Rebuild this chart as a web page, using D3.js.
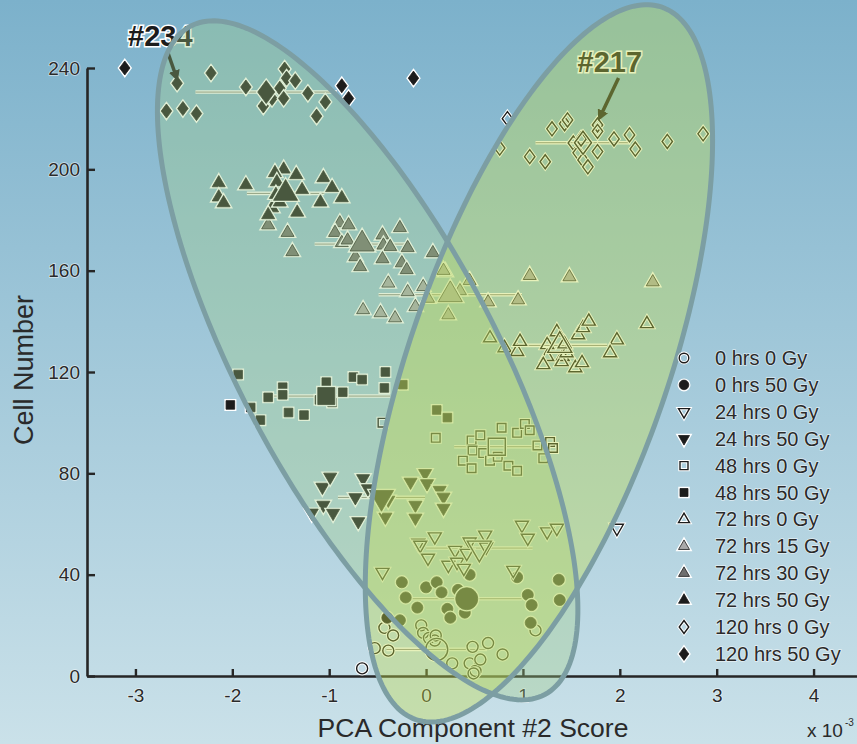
<!DOCTYPE html>
<html>
<head>
<meta charset="utf-8">
<script src="https://cdn.jsdelivr.net/npm/d3@7"></script>
<style>
  body { margin: 0; background: #fff; }
  svg { display: block; }
  text { font-family: "Liberation Sans", Arial, Helvetica, sans-serif; }
</style>
</head>
<body>
<div id="chart"></div>
<script>
// ---- data (x = PCA component #2 score, y = cell number) ----
var legendLabels = ["0 hrs 0 Gy", "0 hrs 50 Gy", "24 hrs 0 Gy", "24 hrs 50 Gy", "48 hrs 0 Gy", "48 hrs 50 Gy",
  "72 hrs 0 Gy", "72 hrs 15 Gy", "72 hrs 30 Gy", "72 hrs 50 Gy", "120 hrs 0 Gy", "120 hrs 50 Gy"];

var xTicks = [-3, -2, -1, 0, 1, 2, 3, 4];
var yTicks = [0, 40, 80, 120, 160, 200, 240];

// group means and spread (horizontal bars)
var groupMean = [0.11, 0.42, 0.55, -0.46, 0.73, -1.03, 1.38, 0.25, -0.66, -1.45, 1.62, -1.65];
var groupSD   = [0.52, 0.57, 0.55, 0.45, 0.44, 0.66, 0.49, 0.74, 0.49, 0.40, 0.49, 0.73];
var groupCell = [10.5, 30.5, 50.5, 70.5, 90.5, 110.5, 130.5, 150.5, 170.5, 190.5, 210.5, 230.5];

var h0gy0 = [[-0.66,3],[-0.53,11],[-0.39,10],[-0.43,19],[-0.34,16],[-0.05,20],[-0.03,17],[0.03,15],
  [0.09,14],[0.27,5],[0.45,5],[0.51,2],[0.48,11.5],[0.64,13],[0.56,6.5],[0.79,8.5],[1.13,18],[0.49,1],[0.10,16]];
var h0gy50 = [[-0.25,37],[-0.21,31],[-0.09,27],[0.0,35],[0.11,37],[0.16,33],[0.22,26.5],[0.25,23],[0.33,34],
  [0.38,31],[0.43,31],[0.40,25],[0.45,40],[0.94,39],[1.05,32],[1.09,28],[1.08,21],[1.37,38],[1.38,30],[-0.40,23],[-0.27,22]];
var h24gy0 = [[0.99,59.6],[1.05,54.5],[1.25,57],[1.35,58.4],[0.09,55],[-0.08,52.5],[0.61,55.7],[0.45,53],[-0.06,51.7],
  [0.02,46.6],[-0.45,41],[0.23,43.8],[0.30,49.7],[0.32,45],[0.42,48.5],[0.90,41.8],[0.39,42.6],[1.97,58.4],[0.62,51]];
var h24gy50 = [[-1.07,74.6],[-0.99,78.6],[-1.06,67.5],[-0.96,64.3],[-1.18,64.4],[-0.65,78],[-0.60,74],[-0.70,61],
  [-0.45,71.5],[-0.39,69.5],[-0.42,62.8],[-0.16,76.6],[-0.11,67.5],[-0.11,62.4],[-0.01,80],[0.01,76],[0.14,73.4],
  [0.18,70.7],[0.18,66.3],[-0.73,70.5]];
var h48gy0 = [[-0.45,100],[0.10,94],[0.47,93],[0.56,95],[0.78,98],[0.94,96],[1.02,99.5],[1.07,97],[0.48,89],[0.59,88],
  [0.66,85],[0.38,85],[0.47,82],[0.74,86.5],[0.85,83],[0.94,81],[1.15,91],[1.28,92.4],[1.31,90],[1.21,86]];
var h48gy50 = [[-2.02,107],[-1.94,119],[-1.81,106],[-1.71,101],[-1.63,110],[-1.48,114],[-1.48,111],[-1.42,104],
  [-1.26,103],[-1.03,116],[-0.97,108],[-0.86,112],[-0.75,118],[-0.66,117],[-0.42,120],[-0.43,113.7],[-0.24,115],
  [0.11,105],[0.22,102],[-1.10,109]];
var h72gy0 = [[0.66,133.4],[0.81,129.5],[0.94,128],[0.97,132],[1.25,130.7],[1.35,135.8],[1.41,126],[1.25,126],
  [1.21,122.8],[1.40,124],[1.54,121.6],[1.61,123.6],[1.45,127.5],[1.57,134.6],[1.62,137.4],[1.68,140],[1.97,132.6],
  [1.90,127.5],[2.28,139],[1.43,131]];
var h72gy15 = [[-0.39,155],[-0.19,151.6],[-0.03,153.6],[-0.11,145.7],[-0.65,144.5],[-0.47,143.3],[-0.32,141.3],
  [0.20,159.5],[0.18,160],[0.45,156],[0.23,142.5],[0.02,149],[0.64,147.6],[0.95,148.4],[1.07,158],[1.48,157.5],
  [2.34,155.5],[0.35,152]];
var h72gy30 = [[-1.63,178],[-1.43,175],[-1.38,167.4],[-0.89,178.8],[-0.80,178],[-0.94,175],[-0.87,171],[-0.81,172],
  [-0.73,165.4],[-0.68,161.5],[-0.45,174],[-0.44,170],[-0.37,169.4],[-0.45,164.6],[-0.27,176.9],[-0.19,169],
  [-0.25,163],[-0.20,160.3],[0.07,167]];
var h72gy50 = [[-2.14,194.6],[-2.14,189],[-2.09,186.7],[-1.86,193.8],[-1.47,200],[-1.56,198.6],[-1.34,197.8],
  [-1.54,195],[-1.28,191.9],[-1.06,196.6],[-0.97,192.7],[-0.87,188.7],[-1.09,187],[-1.33,183],[-1.59,184.7],
  [-1.63,182],[-1.51,187],[-1.55,190]];
var h120gy0 = [[0.84,220],[0.76,208.4],[1.30,216],[1.43,218],[1.46,219.5],[1.07,205],[1.23,203],[1.52,210.4],
  [1.57,206.5],[1.62,203.7],[1.67,201],[1.77,207],[1.77,217.5],[1.77,215],[1.94,212],[2.10,213.6],[2.16,208],
  [2.49,211],[2.86,214],[1.60,212]];
var h120gy50 = [[-3.11,240],[-2.57,234],[-2.22,238],[-2.68,223],[-2.51,224],[-2.37,222],[-1.86,232.5],[-1.64,231],
  [-1.59,228],[-1.51,232],[-1.47,228],[-1.68,225],[-1.46,239.6],[-1.44,236],[-1.35,235],[-1.22,230],[-1.04,226.6],
  [-1.13,221],[-0.87,233],[-0.80,228],[-0.13,236]];

var groupPoints = [h0gy0, h0gy50, h24gy0, h24gy50, h48gy0, h48gy50, h72gy0, h72gy15, h72gy30, h72gy50, h120gy0, h120gy50];

// ellipses: centre (x, cell), major half axis (dx, dcell), minor half axis (dx, dcell)
var ellipseLeft  = [-0.603, 124.6, 1.829, -131.9, -1.168, -23.8];
var ellipseRight = [1.165, 123.4, -1.270, -140.6, -1.265, 16.7];

// labelled cells
var notes = [
  {label: "#234", xv: -2.57, cell: 234, tx: -49, ty: -37, a0: [-9, -30], a1: [-1, -7]},
  {label: "#217", xv: 1.77, cell: 217.5, tx: -20, ty: -53, a0: [21, -47], a1: [3, -9]}
];

// ---- symbols ----
var symCircle = {draw: function(c, r) { c.moveTo(r, 0); c.arc(0, 0, r, 0, 2 * Math.PI); }};
var symSquare = {draw: function(c, r) { c.rect(-r, -r, 2 * r, 2 * r); }};
var symTriUp = {draw: function(c, r) { var h = r * Math.sqrt(3);
  c.moveTo(0, -h * 2 / 3); c.lineTo(r, h / 3); c.lineTo(-r, h / 3); c.closePath(); }};
var symTriDown = {draw: function(c, r) { var h = r * Math.sqrt(3);
  c.moveTo(0, h * 2 / 3); c.lineTo(r, -h / 3); c.lineTo(-r, -h / 3); c.closePath(); }};
var symDiamond = {draw: function(c, r) {
  c.moveTo(0, -r * 1.35); c.lineTo(r, 0); c.lineTo(0, r * 1.35); c.lineTo(-r, 0); c.closePath(); }};

var ink = "#1c1c1c";
var styles = [
  {sym: symCircle,  fill: "none", r: 5.5, big: 11},
  {sym: symCircle,  fill: ink,    r: 5.5, big: 11},
  {sym: symTriDown, fill: "none", r: 6.5, big: 12},
  {sym: symTriDown, fill: ink,    r: 6.5, big: 12},
  {sym: symSquare,  fill: "none", r: 4.3, big: 8.5},
  {sym: symSquare,  fill: ink,    r: 4.3, big: 8.5},
  {sym: symTriUp,   fill: "none", r: 6.5, big: 12},
  {sym: symTriUp,   fill: "#a9a9a9", r: 6.5, big: 12},
  {sym: symTriUp,   fill: "#6f6f6f", r: 6.5, big: 12},
  {sym: symTriUp,   fill: ink,    r: 6.5, big: 12},
  {sym: symDiamond, fill: "none", r: 5.2, big: 8.5},
  {sym: symDiamond, fill: ink,    r: 5.2, big: 8.5}
];

// ---- chart ----
var W = 857, H = 744;
var svg = d3.select("#chart").append("svg").attr("width", W).attr("height", H);

var grad = svg.append("defs").append("linearGradient").attr("id", "bg")
  .attr("x1", 0).attr("y1", 0).attr("x2", 0).attr("y2", 1);
grad.append("stop").attr("offset", "0%").attr("stop-color", "#7cb1cb");
grad.append("stop").attr("offset", "100%").attr("stop-color", "#cae1e9");
svg.append("rect").attr("width", W).attr("height", H).attr("fill", "url(#bg)");

svg.select("defs").append("marker").attr("id", "head")
  .attr("viewBox", "0 0 10 10").attr("refX", 5).attr("refY", 5)
  .attr("markerWidth", 3.2).attr("markerHeight", 3.2).attr("orient", "auto")
  .append("path").attr("d", "M0,0L10,5L0,10z").attr("fill", ink);

var x = d3.scaleLinear().domain([-3.5, 4.5]).range([87, 862]);
var y = d3.scaleLinear().domain([0, 240]).range([676, 68]);

// axes
var gx = svg.append("g").attr("transform", "translate(0," + y(0) + ")")
  .call(d3.axisBottom(x).tickValues(xTicks).tickSizeInner(-7).tickSizeOuter(0).tickPadding(13)
    .tickFormat(function(d) { return String(d); }));
var gy = svg.append("g").attr("transform", "translate(" + x(-3.5) + ",0)")
  .call(d3.axisLeft(y).tickValues(yTicks).tickSizeInner(-8).tickSizeOuter(0).tickPadding(7)
    .tickFormat(function(d) { return String(d); }));
[gx, gy].forEach(function(g) {
  g.select(".domain").attr("stroke", "#262626").attr("stroke-width", 2.6);
  g.selectAll(".tick line").attr("stroke", "#262626").attr("stroke-width", 2.4);
  g.selectAll(".tick text").attr("font-size", 19).attr("fill", "#2a2a2a")
    .attr("stroke", "rgba(255,255,255,0.6)").attr("stroke-width", 1.5).attr("paint-order", "stroke");
});

svg.append("text").attr("x", 473).attr("y", 737).attr("text-anchor", "middle")
  .attr("font-size", 26.5).attr("fill", "#2a2a2a").text("PCA Component #2 Score");
svg.append("text").attr("transform", "translate(33,370) rotate(-90)").attr("text-anchor", "middle")
  .attr("font-size", 27).attr("fill", "#2a2a2a").text("Cell Number");
svg.append("text").attr("x", 807).attr("y", 737).attr("font-size", 19).attr("fill", "#2a2a2a").text("x 10");
svg.append("text").attr("x", 845).attr("y", 726).attr("font-size", 10).attr("fill", "#2a2a2a").text("-3");

// spread bars
var bars = svg.append("g");
groupMean.forEach(function(m, i) {
  var x0 = x(m - groupSD[i]), x1 = x(m + groupSD[i]), yy = y(groupCell[i]);
  bars.append("line").attr("x1", x0).attr("x2", x1).attr("y1", yy).attr("y2", yy)
    .attr("stroke", "#fff").attr("stroke-width", 3.6);
  bars.append("line").attr("x1", x0).attr("x2", x1).attr("y1", yy).attr("y2", yy)
    .attr("stroke", "#8a8a80").attr("stroke-width", 1);
});

function drawMark(g, st, px, py, r) {
  var p = d3.symbol().type(st.sym).size(r)();
  g.append("path").attr("d", p).attr("transform", "translate(" + px + "," + py + ")")
    .attr("fill", st.fill === "none" ? "none" : "#fff").attr("stroke", "#fff").attr("stroke-width", 3.4);
  g.append("path").attr("d", p).attr("transform", "translate(" + px + "," + py + ")")
    .attr("fill", st.fill).attr("stroke", ink).attr("stroke-width", st.fill === "none" ? 1.4 : 0.8);
}

var marks = svg.append("g");
groupPoints.forEach(function(pts, i) {
  pts.forEach(function(d) { drawMark(marks, styles[i], x(d[0]), y(d[1]), styles[i].r); });
});
groupMean.forEach(function(m, i) { drawMark(marks, styles[i], x(m), y(groupCell[i]), styles[i].big); });

// annotations
notes.forEach(function(n) {
  var px = x(n.xv), py = y(n.cell);
  svg.append("text").attr("x", px + n.tx).attr("y", py + n.ty).attr("font-size", 29).attr("font-weight", "bold")
    .attr("fill", ink).attr("stroke", "#fff").attr("stroke-width", 3).attr("paint-order", "stroke").text(n.label);
  svg.append("line").attr("x1", px + n.a0[0]).attr("y1", py + n.a0[1]).attr("x2", px + n.a1[0]).attr("y2", py + n.a1[1])
    .attr("stroke", ink).attr("stroke-width", 3.5).attr("marker-end", "url(#head)");
});

// ellipses
function ellipsePts(e) {
  return d3.range(0, 2 * Math.PI, Math.PI / 120).map(function(t) {
    return [e[0] + e[2] * Math.cos(t) + e[4] * Math.sin(t), e[1] + e[3] * Math.cos(t) + e[5] * Math.sin(t)];
  });
}
var eline = d3.line().x(function(d) { return x(d[0]); }).y(function(d) { return y(d[1]); }).curve(d3.curveLinearClosed);
svg.append("path").attr("d", eline(ellipsePts(ellipseLeft))).attr("fill", "rgb(162,206,132)").attr("fill-opacity", 0.34);
svg.append("path").attr("d", eline(ellipsePts(ellipseRight))).attr("fill", "rgb(192,218,77)").attr("fill-opacity", 0.39);
[ellipseLeft, ellipseRight].forEach(function(e) {
  svg.append("path").attr("d", eline(ellipsePts(e))).attr("fill", "none")
    .attr("stroke", "#7c9ea3").attr("stroke-width", 5);
});

// legend
var lg = svg.append("g");
legendLabels.forEach(function(l, i) {
  var ly = 358 + i * 26.9;
  var st = styles[i];
  drawMark(lg, st, 684, ly, st.sym === symTriUp || st.sym === symTriDown ? 5.5 : (st.sym === symSquare ? 4 : 4.8));
  lg.append("text").attr("x", 715).attr("y", ly + 7).attr("font-size", 20).attr("fill", "#2a2a2a")
    .attr("stroke", "rgba(255,255,255,0.6)").attr("stroke-width", 1.5).attr("paint-order", "stroke").text(l);
});
</script>
</body>
</html>
